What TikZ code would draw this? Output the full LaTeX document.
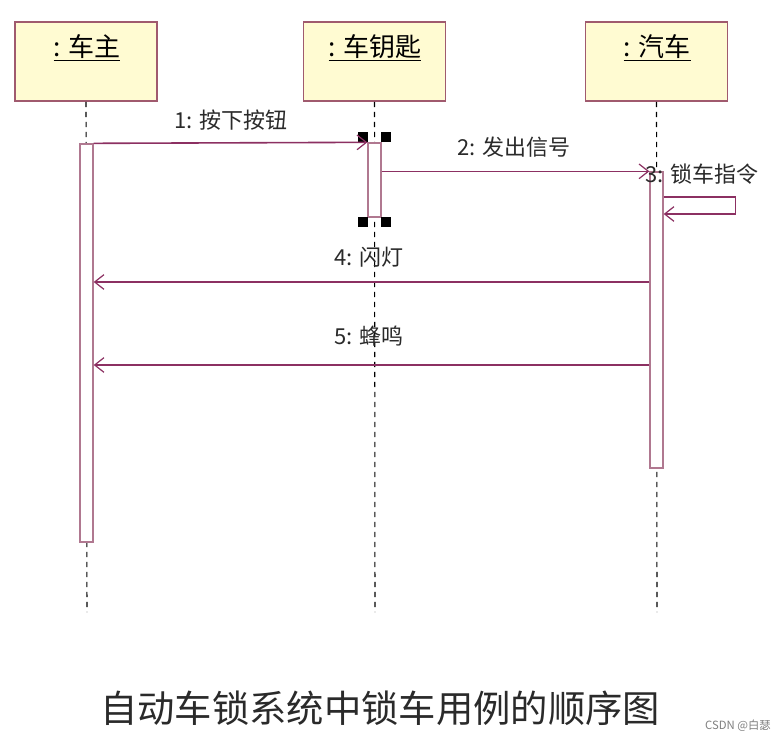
\documentclass[tikz,border=0pt]{standalone}
\usepackage{fontspec}
\newfontfamily\cjk{Noto Sans CJK SC}
\usetikzlibrary{arrows.meta,calc}
\definecolor{boxfill}{HTML}{FFFBD2}
\definecolor{boxline}{HTML}{A05A6E}
\definecolor{msgcol}{HTML}{8C3062}
\definecolor{actline}{HTML}{B07890}
\definecolor{txt}{HTML}{2A2A2A}
\begin{document}
\begin{tikzpicture}[x=0.75pt,y=-0.75pt,
  obj/.style={draw=boxline, fill=boxfill, line width=1.2pt, minimum width=106.5pt, minimum height=59.25pt, inner sep=0pt},
  objlabel/.style={font=\cjk\fontsize{19.5}{22}\selectfont, text=black, inner sep=0pt},
  life/.style={draw=black, line width=0.8pt, dash pattern=on 4pt off 3.5pt},
  act/.style={draw=actline, fill=white, line width=1pt, minimum width=9.75pt, inner sep=0pt},
  msgline/.style={draw=msgcol, line width=1.2pt, -{Straight Barb[length=7pt,width=11pt,line width=0.9pt]}},
  msglabel/.style={font=\cjk\fontsize{16.5}{19}\selectfont, text=txt, inner sep=0pt},
  handle/.style={fill=black, minimum size=7pt, inner sep=0pt}
]
\useasboundingbox (0,0) rectangle (782,742);
\fill[white] (0,0) rectangle (782,742);

% objects
\node[obj] (owner) at (86,61.5) {};
\node[obj] (key) at (374.5,61.5) {};
\node[obj] (car) at (656.5,61.5) {};
\node[objlabel] (ownerL) at (87,48) {\underline{: 车主}};
\node[objlabel] (keyL) at (375,48) {\underline{: 车钥匙}};
\node[objlabel] (carL) at (657,48) {\underline{: 汽车}};

% lifeline ends
\coordinate (e1) at (87,612);
\coordinate (e2) at (375,612);
\coordinate (e3) at (657,612);
\draw[life] (owner.south) -- (e1);
\draw[life] (key.south) -- (e2);
\draw[life] (car.south) -- (e3);

% activations
\node[act, minimum height=298.5pt] (a1) at (86.5,343) {};
\node[act, minimum height=55.5pt] (a2) at (374.5,180) {};
\node[act, minimum height=222pt] (a3) at (656.5,320) {};

% selection handles
\node[handle] (h1) at (363,137) {};
\node[handle] (h2) at (386,137) {};
\node[handle] (h3) at (363,222) {};
\node[handle] (h4) at (386,222) {};

% y levels
\coordinate (y3a) at (0,197);
\coordinate (y3b) at (0,214);
\coordinate (y4) at (0,282);
\coordinate (y5) at (0,365);

% messages
\draw[msgline] (a1.north east) -- (a2.north west);
\draw[msgline] (a2.east |- a3.north) -- (a3.north west);
\draw[msgline] (a3.east |- y3a) -- ++(72,0) -- ++(0,17) -- (a3.east |- y3b);
\draw[msgline] (a3.west |- y4) -- (a1.east |- y4);
\draw[msgline] (a3.west |- y5) -- (a1.east |- y5);

% message labels
\node[msglabel] (l1) at (231,120) {1: 按下按钮};
\node[msglabel] (l2) at (514,147) {2: 发出信号};
\node[msglabel] (l3) at (702,174) {3: 锁车指令};
\node[msglabel] (l4) at (369,257) {4: 闪灯};
\node[msglabel] (l5) at (369,336) {5: 蜂鸣};

% caption
\node[font=\cjk\fontsize{28}{32}\selectfont, text=txt, inner sep=0pt] (cap) at (380,708) {自动车锁系统中锁车用例的顺序图};
\node[font=\cjk\fontsize{8.5}{10}\selectfont, text=gray, inner sep=0pt] (wm) at (738,726) {CSDN @白瑟};
\end{tikzpicture}
\end{document}
